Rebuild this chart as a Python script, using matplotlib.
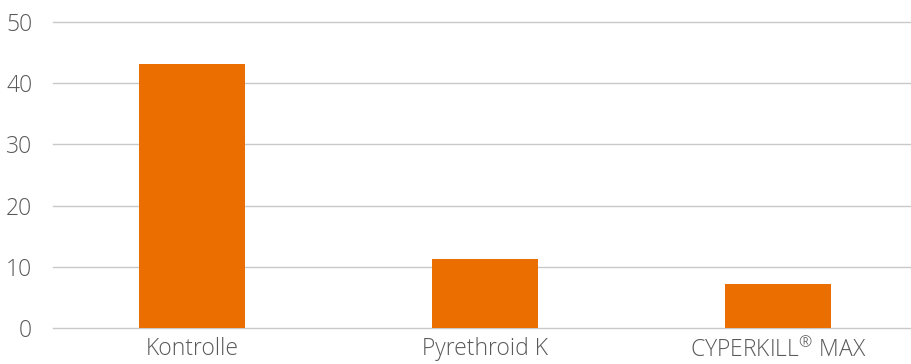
import numpy as np
import matplotlib.pyplot as plt

categories = ['Kontrolle', 'Pyrethroid K', 'CYPERKILL$^{®}$ MAX']
values = [43.1, 11.2, 7.2]
yticks = [0, 10, 20, 30, 40, 50]

plt.rcParams['font.family'] = ['Open Sans', 'DejaVu Sans']
plt.rcParams['mathtext.fontset'] = 'custom'
plt.rcParams['mathtext.rm'] = 'Open Sans:light'
plt.rcParams['mathtext.default'] = 'rm'

fig = plt.figure(figsize=(9.12, 3.64), dpi=100)
ax = fig.add_axes([0.0581, 0.0989, 0.9419, 0.8407])

x = np.arange(len(categories))
ax.bar(x, values, width=0.36, color='#EA6E00', zorder=3)

ax.set_xlim(-0.474, 2.457)
ax.set_ylim(0, 50)
ax.set_yticks(yticks)
ax.set_xticks(x)
ax.set_xticklabels(categories)

ax.grid(axis='y', color='#c8c8c8', linewidth=1.0, zorder=0)
for gl in ax.get_ygridlines():
    gl.set_clip_on(False)
ax.set_axisbelow(True)
for s in ax.spines.values():
    s.set_visible(False)

ax.tick_params(axis='y', length=0, pad=15, labelsize=16.5, labelcolor='#595959')
ax.tick_params(axis='x', length=0, pad=6.5, labelsize=16.5, labelcolor='#595959')
for lab in ax.get_xticklabels() + ax.get_yticklabels():
    lab.set_fontweight('light')

fig.savefig('out.png', dpi=100)
